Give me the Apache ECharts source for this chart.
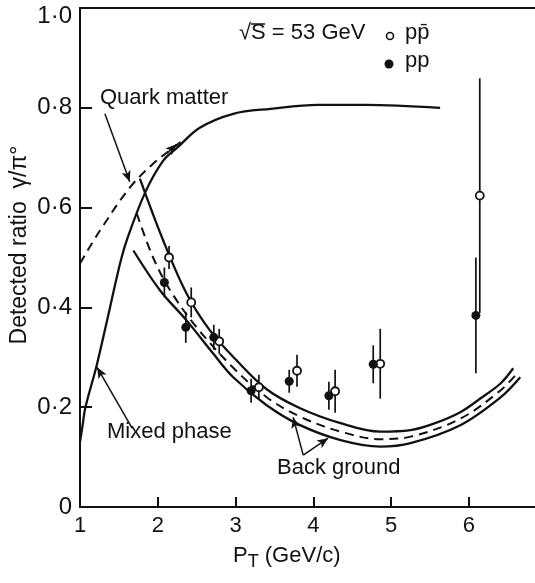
<!DOCTYPE html>
<html>
<head>
<meta charset="utf-8">
<script src="https://cdn.jsdelivr.net/npm/echarts@6/dist/echarts.min.js"></script>
<style>
  html, body { margin: 0; padding: 0; background: #fff; }
  #chart { width: 535px; height: 583px; }
</style>
</head>
<body>
<div id="chart"></div>
<script>
// tick labels
const yTickLabels = { '0': '0', '0.2': '0·2', '0.4': '0·4', '0.6': '0·6', '0.8': '0·8', '1': '1·0' };

// theory curves [pT, ratio]
const mixedQuark = [[1.0, 0.13], [1.03, 0.16], [1.07, 0.2], [1.215, 0.284], [1.386, 0.4], [1.515, 0.488],
  [1.6, 0.534], [1.837, 0.63], [2.07, 0.694], [2.25, 0.72], [2.54, 0.76], [2.97, 0.788],
  [3.45, 0.798], [4.06, 0.806], [4.67, 0.806], [5.63, 0.8]];
const quarkDashed = [[1.0, 0.488], [1.257, 0.554], [1.64, 0.64], [1.94, 0.688], [2.2, 0.72], [2.3, 0.732]];
const bgUpper = [[1.77, 0.658], [2.07, 0.534], [2.37, 0.428], [2.67, 0.354], [3.0, 0.296], [3.4, 0.236],
  [3.83, 0.198], [4.35, 0.168], [4.86, 0.151], [5.25, 0.154], [5.53, 0.166], [5.89, 0.19],
  [6.17, 0.22], [6.41, 0.248], [6.57, 0.278]];
const bgMid = [[1.73, 0.588], [1.94, 0.5], [2.16, 0.434], [2.5, 0.36], [2.97, 0.279], [3.4, 0.22],
  [3.83, 0.181], [4.35, 0.151], [4.86, 0.136], [5.25, 0.141], [5.89, 0.177], [6.41, 0.234], [6.62, 0.268]];
const bgLower = [[1.686, 0.514], [2.03, 0.434], [2.37, 0.374], [2.71, 0.308], [2.97, 0.26], [3.4, 0.204],
  [3.83, 0.164], [4.35, 0.134], [4.86, 0.121], [5.25, 0.128], [5.89, 0.164], [6.41, 0.22], [6.66, 0.26]];

// measurements [pT, ratio, error]
const ppbar = [[2.145, 0.50, 0.023], [2.43, 0.41, 0.03], [2.79, 0.332, 0.025], [3.30, 0.24, 0.025],
  [3.79, 0.273, 0.032], [4.28, 0.232, 0.043], [4.86, 0.287, 0.07], [6.14, 0.624, 0.235]];
const pp = [[2.085, 0.45, 0.03], [2.36, 0.36, 0.031], [2.72, 0.34, 0.025], [3.20, 0.233, 0.024],
  [3.69, 0.252, 0.023], [4.20, 0.223, 0.028], [4.77, 0.286, 0.038], [6.09, 0.384, 0.116]];

const ink = '#111';
const font = 'Liberation Sans';

function curve(data, dashed) {
  return {
    type: 'line', data: data, smooth: 0.35, symbol: 'none', silent: true,
    lineStyle: { color: ink, width: dashed ? 2 : 2.3, type: dashed ? [9, 6] : 'solid' }
  };
}

function errorBars(data) {
  return {
    type: 'custom', data: data, silent: true, z: 3,
    renderItem: function (params, api) {
      const x = api.value(0), y = api.value(1), e = api.value(2);
      const a = api.coord([x, y + e]), b = api.coord([x, y - e]);
      return { type: 'line', shape: { x1: a[0], y1: a[1], x2: b[0], y2: b[1] },
        style: { stroke: ink, lineWidth: 1.7 } };
    }
  };
}

function arrow(from, to) {
  return [{ coord: from }, { coord: to }];
}

const chart = echarts.init(document.getElementById('chart'));

chart.setOption({
  animation: false,
  backgroundColor: '#fff',
  grid: { left: 80, right: 0, top: 8, bottom: 76 },
  xAxis: [{
    type: 'value', min: 1, max: 6.85, interval: 1,
    axisLine: { lineStyle: { color: ink, width: 2 } },
    axisTick: { inside: true, length: 10, lineStyle: { color: ink, width: 2 } },
    axisLabel: { color: ink, fontFamily: font, fontSize: 22, margin: 8, showMaxLabel: false },
    splitLine: { show: false }
  }, {
    type: 'value', position: 'top', min: 1, max: 6.85,
    axisLine: { show: true, lineStyle: { color: ink, width: 2 } },
    axisTick: { show: false }, axisLabel: { show: false }, splitLine: { show: false }
  }],
  yAxis: {
    type: 'value', min: 0, max: 1, interval: 0.2,
    axisLine: { show: true, lineStyle: { color: ink, width: 2 } },
    axisTick: { show: true, inside: true, length: 12, lineStyle: { color: ink, width: 2 } },
    axisLabel: {
      color: ink, fontFamily: font, fontSize: 24, margin: 8,
      formatter: function (v) {
        const s = yTickLabels[String(+v.toFixed(1))];
        return v === 1 ? '{top|' + s + '}' : s;
      },
      rich: { top: { fontFamily: font, fontSize: 24, color: ink, padding: [16, 0, 0, 0] } }
    },
    splitLine: { show: false }
  },
  series: [
    curve(mixedQuark, false),
    curve(quarkDashed, true),
    curve(bgUpper, false),
    curve(bgMid, true),
    curve(bgLower, false),
    errorBars(ppbar),
    errorBars(pp),
    {
      type: 'scatter', data: ppbar, symbol: 'circle', symbolSize: 8, z: 4, silent: true,
      itemStyle: { color: '#fff', borderColor: ink, borderWidth: 1.8, opacity: 1 }
    },
    {
      type: 'scatter', data: pp, symbol: 'circle', symbolSize: 9, z: 4, silent: true,
      itemStyle: { color: ink, opacity: 1 }
    },
    {
      type: 'line', data: [], silent: true,
      markLine: {
        silent: true, animation: false,
        symbol: ['none', 'arrow'], symbolSize: [7, 11],
        label: { show: false },
        lineStyle: { color: ink, width: 1.5, type: 'solid' },
        data: [
          arrow([1.32, 0.788], [1.64, 0.652]),
          arrow([2.12, 0.709], [2.24, 0.727]),
          arrow([1.67, 0.158], [1.22, 0.28]),
          arrow([3.87, 0.104], [3.74, 0.18]),
          arrow([3.87, 0.104], [4.19, 0.138])
        ]
      }
    }
  ],
  graphic: [
    { type: 'text', left: 100, top: 87, style: { text: 'Quark matter', fill: ink, font: '22px "Liberation Sans"' } },
    { type: 'text', left: 107, top: 421, style: { text: 'Mixed phase', fill: ink, font: '22px "Liberation Sans"' } },
    { type: 'text', left: 277, top: 457, style: { text: 'Back ground', fill: ink, font: '22px "Liberation Sans"' } },
    { type: 'text', left: 239, top: 22, style: { text: '√S = 53 GeV', fill: ink, font: '22px "Liberation Sans"' } },
    { type: 'line', shape: { x1: 251, y1: 24, x2: 265, y2: 24 }, style: { stroke: ink, lineWidth: 1.5 } },
    { type: 'circle', shape: { cx: 390, cy: 36, r: 3.5 }, style: { fill: '#fff', stroke: ink, lineWidth: 1.6 } },
    { type: 'text', left: 405, top: 22, style: { text: 'pp\u0304', fill: ink, font: '22px "Liberation Sans"' } },
    { type: 'circle', shape: { cx: 389, cy: 64, r: 4.5 }, style: { fill: ink } },
    { type: 'text', left: 405, top: 50, style: { text: 'pp', fill: ink, font: '22px "Liberation Sans"' } },
    {
      type: 'text', x: 20, y: 245, rotation: Math.PI / 2,
      style: { text: 'Detected ratio  γ/π°', fill: ink, font: '23px "Liberation Sans"', align: 'center', verticalAlign: 'middle' }
    },
    {
      type: 'text', left: 233, top: 545,
      style: {
        text: '{p|P}{s|T}{p| (GeV/c)}',
        rich: {
          p: { fontFamily: font, fontSize: 22, fill: ink, color: ink },
          s: { fontFamily: font, fontSize: 18, fill: ink, color: ink, padding: [12, 0, 0, 0] }
        }
      }
    }
  ]
});
</script>
</body>
</html>
